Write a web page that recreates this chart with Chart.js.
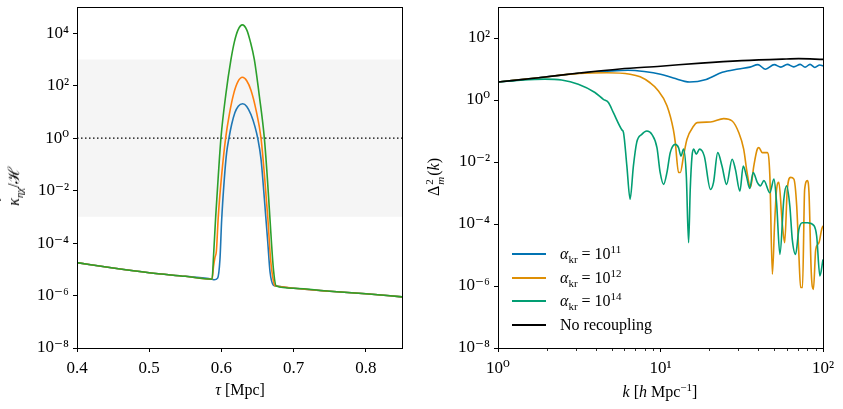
<!DOCTYPE html>
<html>
<head>
<meta charset="utf-8">
<script src="https://cdn.jsdelivr.net/npm/chart.js@4.4.1/dist/chart.umd.min.js"></script>
<style>
  body { margin: 0; background: #fff; }
  #wrap { position: relative; width: 843px; height: 409px; overflow: hidden; font-family: 'Liberation Serif', 'DejaVu Serif', serif; color: #000; }
  canvas { position: absolute; top: 0; }
  #c1 { left: 0; }
  #c2 { left: 420px; }
  .lbl { position: absolute; font-size: 16px; white-space: nowrap; line-height: 1; }
  .rot { transform: translate(-50%, -50%) rotate(-90deg); }
  .ctr { transform: translate(-50%, -50%); }
  .ss { display: inline-flex; flex-direction: column; vertical-align: middle; font-size: 11px; line-height: 1; margin: 0 1px; }
  .dot { position: relative; display: inline-block; }
  .dot b { position: absolute; left: 3px; top: -9px; font-weight: normal; }
  #legend { position: absolute; left: 512px; top: 242px; font-size: 16px; }
  .row { height: 23.7px; display: flex; align-items: center; white-space: nowrap; }
  .swatch { width: 34px; height: 0; border-top: 2px solid; margin-right: 14px; }
  sub, sup { font-size: 11px; line-height: 0; }
</style>
</head>
<body>
<div id="wrap">
  <canvas id="c1" width="420" height="409"></canvas>
  <canvas id="c2" width="423" height="409"></canvas>
  <div class="lbl rot" style="left:14px; top:186px;"><span class="dot"><i>κ</i><b>˙</b></span><sub><i>ηχ</i></sub>/ℋ</div>
  <div class="lbl ctr" style="left:240px; top:390px;"><i>τ</i> [Mpc]</div>
  <div class="lbl rot" style="left:435px; top:177px;">Δ<span class="ss"><span>2</span><i>m</i></span>(<i>k</i>)</div>
  <div class="lbl ctr" style="left:660px; top:392px;"><i>k</i> [<i>h</i> Mpc<sup>−1</sup>]</div>
  <div id="legend"></div>
</div>
<script>
// ---- left panel: tau [Mpc] vs kappa-dot / H ----
const tauBaseL = [0.40, 0.45, 0.50, 0.55, 0.587];
const valBaseL = [1.8e-5, 1.12e-5, 7.4e-6, 5.4e-6, 4.2e-6];
const tauBaseR = [0.676, 0.70, 0.75, 0.80, 0.85];
const valBaseR = [2.3e-6, 1.9e-6, 1.45e-6, 1.17e-6, 8.9e-7];

const tauPeakBlue = [0.590, 0.5947, 0.5979, 0.6003, 0.6039, 0.6072, 0.6104, 0.6141, 0.6187, 0.6233, 0.6294, 0.635, 0.641, 0.6465, 0.6502, 0.6548, 0.6594, 0.6641, 0.6673, 0.6719];
const valPeakBlue = [4.0e-6, 4.6e-6, 2.3e-5, 7.6e-4, 0.026, 0.28, 1.0, 3.3, 9.5, 16.6, 20.4, 16.2, 7.8, 2.7, 1.0, 0.158, 0.005, 1.12e-4, 7.9e-6, 2.5e-6];

const tauPeakOrange = [0.589, 0.591, 0.593, 0.5956, 0.600, 0.6058, 0.611, 0.617, 0.623, 0.629, 0.635, 0.641, 0.648, 0.6548, 0.6595, 0.6641, 0.668, 0.672, 0.674];
const valPeakOrange = [1.26e-5, 2.8e-5, 5.0e-5, 1.0e-3, 0.032, 1.0, 8.3, 50, 145, 209, 155, 66, 11.5, 1.0, 0.04, 1.0e-3, 2.5e-5, 3.5e-6, 2.4e-6];

const tauPeakGreen = [0.589, 0.592, 0.5955, 0.5993, 0.606, 0.6132, 0.618, 0.623, 0.629, 0.635, 0.640, 0.6455, 0.6525, 0.6594, 0.6635, 0.667, 0.672];
const valPeakGreen = [3e-5, 1e-3, 0.032, 1.0, 45, 1000, 4800, 13500, 20900, 13500, 4800, 1000, 40, 1.0, 0.032, 1e-3, 1e-5];

const tauRange = [0.4, 0.85];
const bandLimits = [1e-3, 1e3];
const leftXTicks = [0.4, 0.5, 0.6, 0.7, 0.8];
const leftYTicks = [1e-8, 1e-6, 1e-4, 1e-2, 1, 1e2, 1e4];

// ---- right panel: k [h/Mpc] vs Delta^2_m ----
const kBlack = [1, 1.78, 3.16, 5.62, 10, 17.8, 31.6, 56.2, 70.8, 100];
const dBlack = [3.8, 5.25, 7.4, 10.0, 12.3, 15.5, 18.6, 20.9, 21.6, 20.4];

const kBlue = [1, 1.78, 3.16, 5.01, 6.31, 7.94, 10, 12.0, 15.1, 19.1, 24.0, 30.2, 35.5, 39.8, 44.3, 50.1, 55.0, 60.3, 66.1, 72.4, 77.6, 83.2, 89.1, 95.5, 100];
const dBlue = [3.8, 5.25, 7.3, 8.7, 9.1, 8.3, 6.8, 5.1, 3.8, 4.6, 7.8, 10.0, 11.5, 13.8, 9.8, 13.8, 11.5, 14.1, 11.7, 14.1, 11.5, 14.1, 11.2, 13.5, 12.6];

const kOrange = [1, 1.78, 3.16, 4.67, 6.50, 7.50, 8.63, 9.51, 10.96, 12.0, 12.33, 12.91, 13.24, 13.87, 14.55, 16.0, 16.8, 20.3, 24.5, 27.6, 30.3, 32.5, 34.1, 35.8, 37.5, 39.4, 40.3, 42.3, 45.4, 47.1, 48.8, 50.4, 51.8, 53.5, 56.1, 58.1, 60.3, 63.2, 66.2, 68.9, 71.1, 72.8, 74.8, 77.1, 80.2, 82.0, 84.7, 87.3, 90.2, 94.4, 98.2, 100];
const dOrange = [3.8, 5.25, 7.2, 7.6, 6.8, 5.6, 3.6, 2.24, 0.65, 0.11, 0.043, 0.0046, 0.0046, 0.016, 0.054, 0.145, 0.186, 0.195, 0.25, 0.21, 0.089, 0.026, 0.0046, 0.0015, 0.0074, 0.026, 0.029, 0.020, 0.020, 0.0035, 2.4e-6, 1.1e-4, 0.0013, 0.0022, 1.1e-4, 2.5e-5, 0.0013, 0.0032, 0.0028, 3.8e-4, 9.3e-6, 8.9e-7, 8.9e-7, 0.0013, 0.0025, 0.00102, 2.7e-6, 7.8e-7, 1.5e-5, 2.5e-5, 6.8e-5, 8.7e-5];

const kGreen = [1, 1.27, 1.94, 2.46, 3.12, 3.95, 4.45, 4.78, 5.13, 5.78, 5.92, 6.21, 6.50, 6.81, 7.14, 7.67, 8.24, 8.85, 9.51, 9.95, 10.45, 10.96, 11.48, 12.33, 12.91, 13.37, 13.87, 14.42, 14.89, 15.24, 15.63, 16.0, 16.6, 17.4, 18.6, 20.3, 21.2, 22.5, 23.9, 25.5, 27.6, 28.9, 30.8, 32.3, 33.8, 35.4, 37.2, 39.4, 41.2, 43.3, 47.1, 49.9, 51.8, 54.3, 57.4, 59.7, 62.5, 64.7, 67.8, 71.1, 74.6, 80.2, 87.9, 91.4, 95.7, 100];
const dGreen = [3.8, 4.2, 4.7, 4.4, 3.2, 1.74, 1.05, 0.83, 0.39, 0.11, 0.089, 0.0074, 0.00063, 0.0074, 0.043, 0.078, 0.10, 0.078, 0.029, 0.0046, 0.0019, 0.0046, 0.020, 0.037, 0.029, 0.0155, 0.026, 0.0035, 2.5e-5, 0.0013, 0.0155, 0.026, 0.018, 0.026, 0.0155, 0.0013, 0.0022, 0.020, 0.0074, 0.0019, 0.0123, 0.0058, 0.00115, 0.0074, 0.0035, 0.0014, 0.0046, 0.0022, 0.0017, 0.0025, 0.00102, 0.0028, 0.00049, 1.05e-5, 0.00063, 0.0017, 0.00038, 3.2e-5, 1.05e-5, 6.8e-5, 1.1e-4, 1.1e-4, 8.9e-5, 4.1e-5, 2.1e-6, 7.2e-6];

const rightXTicks = [1, 10, 100];
const rightXMinor = [2, 3, 4, 5, 6, 7, 8, 9, 20, 30, 40, 50, 60, 70, 80, 90];
const rightYTicks = [1e-8, 1e-6, 1e-4, 1e-2, 1, 1e2];

const legendLabels = [
  { html: '<i>α</i><sub>kr</sub> = 10<sup>11</sup>', color: '#0173b2' },
  { html: '<i>α</i><sub>kr</sub> = 10<sup>12</sup>', color: '#de8f05' },
  { html: '<i>α</i><sub>kr</sub> = 10<sup>14</sup>', color: '#029e73' },
  { html: 'No recoupling', color: '#000000' }
];

Chart.defaults.font.family = "'Liberation Serif', 'DejaVu Serif', serif";
Chart.defaults.color = '#000';
Chart.defaults.animation = false;

const supMap = { '-': '⁻', '0': '⁰', '1': '¹', '2': '²', '3': '³', '4': '⁴', '5': '⁵', '6': '⁶', '7': '⁷', '8': '⁸', '9': '⁹' };
function powLabel(v) {
  const e = Math.round(Math.log10(v));
  return '10' + String(e).split('').map(c => supMap[c]).join('');
}
function pts(xs, ys) {
  return xs.map((x, i) => ({ x: x, y: ys[i] }));
}

// box round the plot, like matplotlib spines
const framePlugin = {
  id: 'frame',
  afterDatasetsDraw(chart) {
    const { ctx, chartArea: a } = chart;
    ctx.save();
    ctx.strokeStyle = '#000';
    ctx.lineWidth = 1;
    ctx.strokeRect(Math.round(a.left) + 0.5, Math.round(a.top) + 0.5, Math.round(a.right - a.left), Math.round(a.bottom - a.top));
    ctx.restore();
  }
};

// minor ticks on the log k axis
const minorTicksPlugin = {
  id: 'minorTicks',
  afterDraw(chart) {
    const xs = chart.scales.x;
    const ctx = chart.ctx;
    const y0 = Math.round(chart.chartArea.bottom) + 0.5;
    ctx.save();
    ctx.strokeStyle = '#000';
    ctx.lineWidth = 0.8;
    rightXMinor.forEach(v => {
      const px = Math.round(xs.getPixelForValue(v)) + 0.5;
      ctx.beginPath();
      ctx.moveTo(px, y0);
      ctx.lineTo(px, y0 + 2.5);
      ctx.stroke();
    });
    ctx.restore();
  }
};

function axisCommon(ticks, w, isY) {
  return {
    grid: { drawOnChartArea: false, drawTicks: true, tickLength: 4, color: '#000', tickWidth: 1 },
    border: { display: true, color: '#000', width: 1 },
    ticks: {
      font: { size: 17 },
      padding: isY ? 4 : 6,
      autoSkip: false,
      maxRotation: 0,
      callback: isY || ticks === rightXTicks ? (v) => powLabel(v) : (v) => v.toFixed(1)
    },
    afterBuildTicks: (s) => { s.ticks = ticks.map(v => ({ value: v })); },
    afterFit: (s) => {
      if (isY) s.width = w; else s.height = w;
      // keep the plot box where the layout padding puts it
      s.paddingTop = 0; s.paddingBottom = 0; s.paddingLeft = 0; s.paddingRight = 0;
    }
  };
}

const lineStyle = { pointRadius: 0, borderWidth: 1.6, fill: false, cubicInterpolationMode: 'monotone' };

// left chart
new Chart(document.getElementById('c1'), {
  type: 'line',
  data: {
    datasets: [
      Object.assign({}, lineStyle, { label: 'g', borderColor: '#2ca02c', order: 1,
        data: pts(tauBaseL.concat(tauPeakGreen, tauBaseR), valBaseL.concat(valPeakGreen, valBaseR)) }),
      Object.assign({}, lineStyle, { label: 'o', borderColor: '#ff7f0e', order: 2,
        data: pts(tauBaseL.concat(tauPeakOrange, tauBaseR), valBaseL.concat(valPeakOrange, valBaseR)) }),
      Object.assign({}, lineStyle, { label: 'b', borderColor: '#1f77b4', order: 3,
        data: pts(tauBaseL.concat(tauPeakBlue, tauBaseR), valBaseL.concat(valPeakBlue, valBaseR)) }),
      { label: 'unity', data: pts(tauRange, [1, 1]), borderColor: '#000', borderWidth: 1.4, borderDash: [1.5, 2.5], pointRadius: 0, fill: false, order: 4 },
      { label: 'bandTop', data: pts(tauRange, [bandLimits[1], bandLimits[1]]), borderWidth: 0, pointRadius: 0, fill: '+1', backgroundColor: '#f5f5f5', order: 5 },
      { label: 'bandBot', data: pts(tauRange, [bandLimits[0], bandLimits[0]]), borderWidth: 0, pointRadius: 0, fill: false, order: 6 }
    ]
  },
  options: {
    responsive: false,
    layout: { padding: { top: 7, right: 18, left: 0, bottom: 0 } },
    plugins: { legend: { display: false }, tooltip: { enabled: false } },
    scales: {
      x: Object.assign(axisCommon(leftXTicks, 61, false), { type: 'linear', min: tauRange[0], max: tauRange[1] }),
      y: Object.assign(axisCommon(leftYTicks, 77, true), { type: 'logarithmic', min: 1e-8, max: 1e5 })
    }
  },
  plugins: [framePlugin]
});

// right chart
const rightChart = new Chart(document.getElementById('c2'), {
  type: 'line',
  data: {
    datasets: [
      Object.assign({}, lineStyle, { label: 'No recoupling', borderColor: '#000000', order: 1, data: pts(kBlack, dBlack) }),
      Object.assign({}, lineStyle, { label: 'a14', borderColor: '#029e73', order: 2, data: pts(kGreen, dGreen) }),
      Object.assign({}, lineStyle, { label: 'a12', borderColor: '#de8f05', order: 3, data: pts(kOrange, dOrange) }),
      Object.assign({}, lineStyle, { label: 'a11', borderColor: '#0173b2', order: 4, data: pts(kBlue, dBlue) })
    ]
  },
  options: {
    responsive: false,
    layout: { padding: { top: 7, right: 20, left: 0, bottom: 0 } },
    plugins: { legend: { display: false }, tooltip: { enabled: false } },
    scales: {
      x: Object.assign(axisCommon(rightXTicks, 61, false), { type: 'logarithmic', min: 1, max: 100 }),
      y: Object.assign(axisCommon(rightYTicks, 78, true), { type: 'logarithmic', min: 1e-8, max: 1e3 })
    }
  },
  plugins: [framePlugin, minorTicksPlugin]
});

// html legend so the subscripts come out right
const legendBox = document.getElementById('legend');
legendLabels.forEach(item => {
  const row = document.createElement('div');
  row.className = 'row';
  row.innerHTML = '<span class="swatch" style="border-color:' + item.color + '"></span><span>' + item.html + '</span>';
  legendBox.appendChild(row);
});
</script>
</body>
</html>
